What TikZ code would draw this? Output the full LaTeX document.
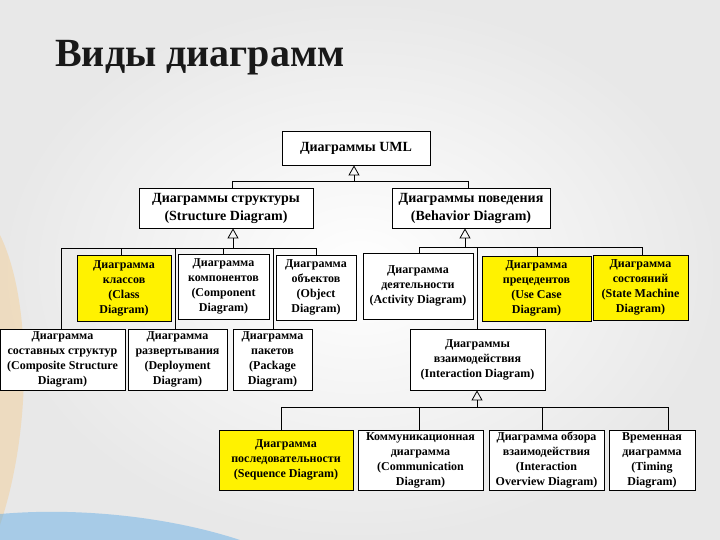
\documentclass[tikz,border=0pt]{standalone}
\usepackage{fontspec}
\setmainfont{Liberation Serif}
\usetikzlibrary{arrows.meta,calc}
\definecolor{boxyellow}{RGB}{255,242,0}
\definecolor{swooshblue}{RGB}{70,160,230}
\definecolor{swooshorange}{RGB}{250,190,100}
\tikzset{
  box/.style={draw=black, line width=0.8pt, fill=white, inner sep=1pt, align=center},
  leaf/.style={box, font=\bfseries\fontsize{12}{15}\selectfont},
  top/.style={box, font=\bfseries\fontsize{14}{18}\selectfont},
  hl/.style={fill=boxyellow},
  conn/.style={draw=black, line width=0.8pt},
  gen/.style={conn, -{Triangle[open, width=11pt, length=10pt]}},
  titlefont/.style={font=\bfseries\fontsize{40}{40}\selectfont}
}
\begin{document}
\begin{tikzpicture}[x=1pt,y=-1pt]
\useasboundingbox (0,0) rectangle (720,540);
% background
\shade[inner color=white, outer color=gray!18] (0,0) rectangle (720,540);
\fill[swooshorange, opacity=0.3] (0,235) .. controls (32,300) and (32,430) .. (0,525) -- cycle;
\fill[swooshblue, opacity=0.4] (0,514) .. controls (80,507) and (170,517) .. (240,540) -- (0,540) -- cycle;
% title
\node[titlefont, anchor=base, text=black!90] (title) at (200,67) {Виды диаграмм};
% level 0,1
\node[top, minimum width=148pt, minimum height=34pt] (uml) at (356,148) {Диаграммы UML};
\node[top, minimum width=174pt, minimum height=40pt] (str) at (226,208) {Диаграммы структуры\\(Structure Diagram)};
\node[top, minimum width=158pt, minimum height=40pt] (beh) at (471,208) {Диаграммы поведения\\(Behavior Diagram)};
% structure children
\node[leaf, hl, minimum width=94pt, minimum height=66pt] (cls) at (124,288) {Диаграмма\\классов\\(Class\\Diagram)};
\node[leaf, minimum width=91pt, minimum height=65pt] (cmp) at (223.5,286.5) {Диаграмма\\компонентов\\(Component\\Diagram)};
\node[leaf, minimum width=80pt, minimum height=65pt] (obj) at (316,287.5) {Диаграмма\\объектов\\(Object\\Diagram)};
\node[leaf, minimum width=125pt, minimum height=61pt] (cmpst) at (62.5,359.5) {Диаграмма\\составных структур\\(Composite Structure\\Diagram)};
\node[leaf, minimum width=99pt, minimum height=61pt] (dep) at (177.5,359.5) {Диаграмма\\развертывания\\(Deployment\\Diagram)};
\node[leaf, minimum width=79pt, minimum height=61pt] (pkg) at (272.5,359.5) {Диаграмма\\пакетов\\(Package\\Diagram)};
% behavior children
\node[leaf, minimum width=110pt, minimum height=66pt] (act) at (418,286) {Диаграмма\\деятельности\\(Activity Diagram)};
\node[leaf, hl, minimum width=109pt, minimum height=65pt] (use) at (536.5,288.5) {Диаграмма\\прецедентов\\(Use Case\\Diagram)};
\node[leaf, hl, minimum width=95pt, minimum height=65pt] (stm) at (640.5,287.5) {Диаграмма\\состояний\\(State Machine\\Diagram)};
\node[leaf, minimum width=135pt, minimum height=61pt] (inter) at (477.5,359.5) {Диаграммы\\взаимодействия\\(Interaction Diagram)};
% interaction children
\node[leaf, hl, minimum width=134pt, minimum height=60pt] (seq) at (286,460) {Диаграмма\\последовательности\\(Sequence Diagram)};
\node[leaf, minimum width=125pt, minimum height=60pt] (com) at (420.5,460) {Коммуникационная\\диаграмма\\(Communication\\Diagram)};
\node[leaf, minimum width=115pt, minimum height=60pt] (ovr) at (546.5,460) {Диаграмма обзора\\взаимодействия\\(Interaction\\Overview Diagram)};
\node[leaf, minimum width=86pt, minimum height=60pt] (tim) at (652,460) {Временная\\диаграмма\\(Timing\\Diagram)};
% --- connectors: UML
\coordinate (bU) at (354,181);
\coordinate (bUL) at (232,181);
\coordinate (bUR) at (468,181);
\draw[conn] (bUL) -- (bUR);
\draw[gen] (bU) -- (bU |- uml.south);
\draw[conn] (bUL) -- (bUL |- str.north);
\draw[conn] (bUR) -- (bUR |- beh.north);
% structure
\coordinate (bS) at (233,248);
\coordinate (sA) at (61,248);
\coordinate (sB) at (121,248);
\coordinate (sC) at (175,248);
\coordinate (sD) at (223,248);
\coordinate (sE) at (273,248);
\coordinate (sF) at (316,248);
\draw[conn] (sA) -- (sF);
\draw[gen] (bS) -- (bS |- str.south);
\draw[conn] (sA) -- (sA |- cmpst.north);
\draw[conn] (sB) -- (sB |- cls.north);
\draw[conn] (sC) -- (sC |- dep.north);
\draw[conn] (sD) -- (sD |- cmp.north);
\draw[conn] (sE) -- (sE |- pkg.north);
\draw[conn] (sF) -- (sF |- obj.north);
% behavior
\coordinate (bB) at (465,247);
\coordinate (tA) at (419,247);
\coordinate (tB) at (477,247);
\coordinate (tC) at (537,247);
\coordinate (tD) at (642,247);
\draw[conn] (tA) -- (tD);
\draw[gen] (bB) -- (bB |- beh.south);
\draw[conn] (tA) -- (tA |- act.north);
\draw[conn] (tB) -- (tB |- inter.north);
\draw[conn] (tC) -- (tC |- use.north);
\draw[conn] (tD) -- (tD |- stm.north);
% interaction
\coordinate (bI) at (477,407);
\coordinate (uA) at (281,407);
\coordinate (uB) at (419,407);
\coordinate (uC) at (542,407);
\coordinate (uD) at (668,407);
\draw[conn] (uA) -- (uD);
\draw[gen] (bI) -- (bI |- inter.south);
\draw[conn] (uA) -- (uA |- seq.north);
\draw[conn] (uB) -- (uB |- com.north);
\draw[conn] (uC) -- (uC |- ovr.north);
\draw[conn] (uD) -- (uD |- tim.north);
\end{tikzpicture}
\end{document}
